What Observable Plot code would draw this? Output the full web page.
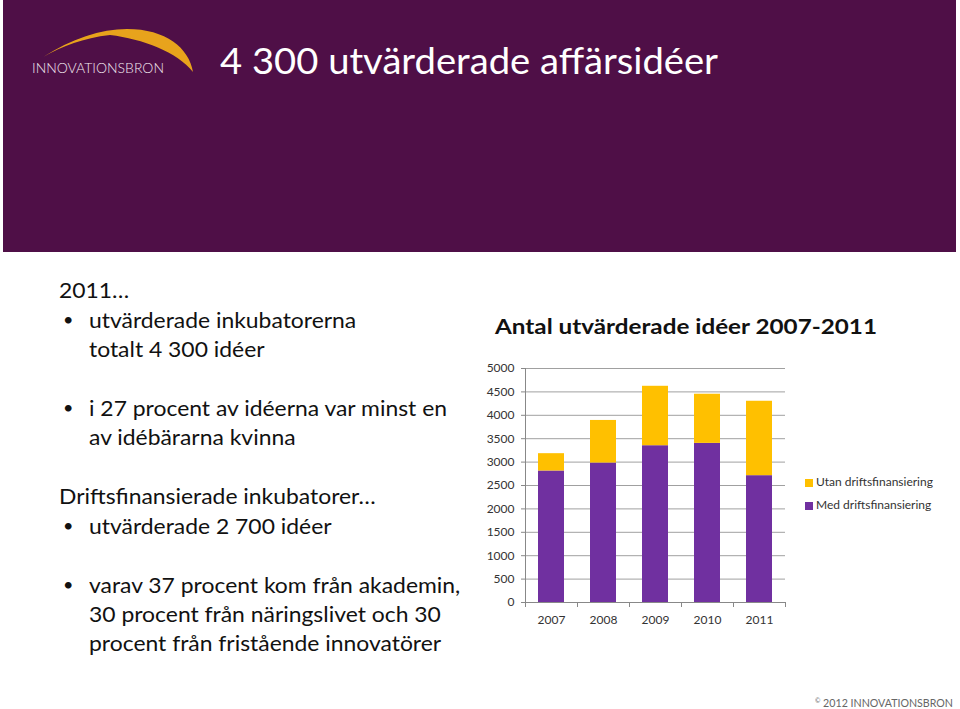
<!DOCTYPE html>
<html>
<head>
<meta charset="utf-8">
<script src="https://cdn.jsdelivr.net/npm/d3@7"></script>
<script src="https://cdn.jsdelivr.net/npm/@observablehq/plot@0.6"></script>
<style>
  html, body { margin:0; padding:0; background:#fff; }
  #page { position:relative; width:960px; height:709px; overflow:hidden; font-family: Lato, "Open Sans", sans-serif; color:#111; }
  #header { position:absolute; left:3px; top:0; width:953px; height:252px; background:#4F0F47; }
  .fit { position:absolute; white-space:nowrap; display:inline-block; transform-origin: 0 50%; }
  #title { left:220px; top:38px; font-size:36px; color:#fff; }
  #logoText { left:32px; top:60px; font-size:13px; color:#f2e8f0; font-weight:300; }
  .t { font-size:21px; line-height:21px; }
  .b { position:absolute; font-size:18px; line-height:21px; }
  #ctitle { left:495px; top:314px; font-size:20px; font-weight:bold; color:#111; }
  #chart { position:absolute; left:470px; top:355px; }
  .leg { position:absolute; font-size:12px; color:#333; white-space:nowrap; line-height:12px; }
  .sw { position:absolute; width:8px; height:8px; }
  #footer { left:815px; top:696px; font-size:11.5px; color:#666; }
</style>
</head>
<body>
<div id="page">
  <div id="header">
    <svg width="953" height="252" style="position:absolute;left:0;top:0">
      <path d="M40,57 C68,39 98,29 124,29 C163,29 186,48 190,72 C174,52 140,39 107,35 C80,38 60,46 40,57 Z" fill="#E8A31C"/>
    </svg>
  </div>
  <div id="logoText" class="fit">INNOVATIONSBRON</div>
  <div id="title" class="fit">4 300 utvärderade affärsidéer</div>

  <div id="text"></div>

  <div id="ctitle" class="fit">Antal utvärderade idéer 2007-2011</div>
  <div id="chart"></div>
  <div id="legend"></div>
  <div id="footer" class="fit"><span style="font-size:7px;vertical-align:4px">©</span> 2012 INNOVATIONSBRON</div>
</div>
<script>
// ---- data ----
const years = [2007, 2008, 2009, 2010, 2011];
const medDrift = [2810, 2980, 3350, 3400, 2710];
const utanDrift = [370, 910, 1270, 1050, 1590];
const seriesNames = ["Utan driftsfinansiering", "Med driftsfinansiering"];
const yTicks = [0, 500, 1000, 1500, 2000, 2500, 3000, 3500, 4000, 4500, 5000];

const textLines = [
  {s: "2011…", indent: false, bullet: false, y: 290},
  {s: "utvärderade inkubatorerna", indent: true, bullet: true, y: 320},
  {s: "totalt 4 300 idéer", indent: true, bullet: false, y: 349},
  {s: "i 27 procent av idéerna var minst en", indent: true, bullet: true, y: 408},
  {s: "av idébärarna kvinna", indent: true, bullet: false, y: 437},
  {s: "Driftsfinansierade inkubatorer…", indent: false, bullet: false, y: 496},
  {s: "utvärderade 2 700 idéer", indent: true, bullet: true, y: 526},
  {s: "varav 37 procent kom från akademin,", indent: true, bullet: true, y: 585},
  {s: "30 procent från näringslivet och 30", indent: true, bullet: false, y: 614},
  {s: "procent från fristående innovatörer", indent: true, bullet: false, y: 643}
];

function fitTo(el, target) {
  const w = el.getBoundingClientRect().width;
  const k = target / w;
  el.style.transform = "scaleX(" + k + ")";
  return k;
}

// ---- text ----
const tdiv = document.getElementById("text");
const bodyEls = [];
let refEl = null;
for (const l of textLines) {
  const d = document.createElement("div");
  d.className = "fit t";
  d.style.left = (l.indent ? 89 : 59) + "px";
  d.style.top = (l.y - 11) + "px";
  d.textContent = l.s;
  tdiv.appendChild(d);
  bodyEls.push(d);
  if (l.s.startsWith("i 27")) refEl = d;
  if (l.bullet) {
    const b = document.createElement("div");
    b.className = "b";
    b.style.left = "63px";
    b.style.top = (l.y - 11) + "px";
    b.textContent = "•";
    tdiv.appendChild(b);
  }
}
const kBody = 358 / refEl.getBoundingClientRect().width;
for (const e of bodyEls) e.style.transform = "scaleX(" + kBody + ")";

fitTo(document.getElementById("title"), 498);
fitTo(document.getElementById("logoText"), 132);
fitTo(document.getElementById("ctitle"), 382);
fitTo(document.getElementById("footer"), 138);

// ---- chart ----
const colors = ["#FFC000", "#7030A0"];
const rows = [];
years.forEach((yr, i) => {
  rows.push({year: yr, series: seriesNames[1], y1: 0, y2: medDrift[i]});
  rows.push({year: yr, series: seriesNames[0], y1: medDrift[i], y2: medDrift[i] + utanDrift[i]});
});
const boundaries = [...years.map(y => y - 0.5), years[years.length - 1] + 0.5];

const chart = Plot.plot({
  width: 330, height: 280,
  marginLeft: 55, marginRight: 15, marginTop: 13, marginBottom: 33,
  style: {fontFamily: "Lato, sans-serif", fontSize: "12px", color: "#333", background: "transparent"},
  x: {type: "linear", domain: [boundaries[0], boundaries[boundaries.length - 1]]},
  y: {domain: [0, 5000]},
  color: {domain: seriesNames, range: colors},
  marks: [
    Plot.gridY(yTicks, {stroke: "#a0a0a0", strokeOpacity: 1}),
    Plot.rectY(rows, {x1: d => d.year - 0.25, x2: d => d.year + 0.25, y1: "y1", y2: "y2", fill: "series"}),
    Plot.ruleY([0], {stroke: "#888"}),
    Plot.ruleX([boundaries[0]], {stroke: "#888"}),
    Plot.axisY({ticks: yTicks, tickSize: 4, tickPadding: 7, tickFormat: d => String(d), stroke: "#888", label: null}),
    Plot.axisX({ticks: years, tickSize: 0, tickPadding: 13, tickFormat: d => String(d), label: null}),
    Plot.axisX({ticks: boundaries, tickSize: 5, tickFormat: () => "", stroke: "#888", label: null})
  ]
});
document.getElementById("chart").appendChild(chart);

// ---- legend ----
const leg = document.getElementById("legend");
seriesNames.forEach((name, i) => {
  const cy = 483 + i * 23;
  const sw = document.createElement("div");
  sw.className = "sw";
  sw.style.left = "805px"; sw.style.top = (cy - 4) + "px";
  sw.style.background = colors[i];
  leg.appendChild(sw);
  const t = document.createElement("div");
  t.className = "leg";
  t.style.left = "816px"; t.style.top = (cy - 7) + "px";
  t.textContent = name;
  leg.appendChild(t);
});
</script>
</body>
</html>
